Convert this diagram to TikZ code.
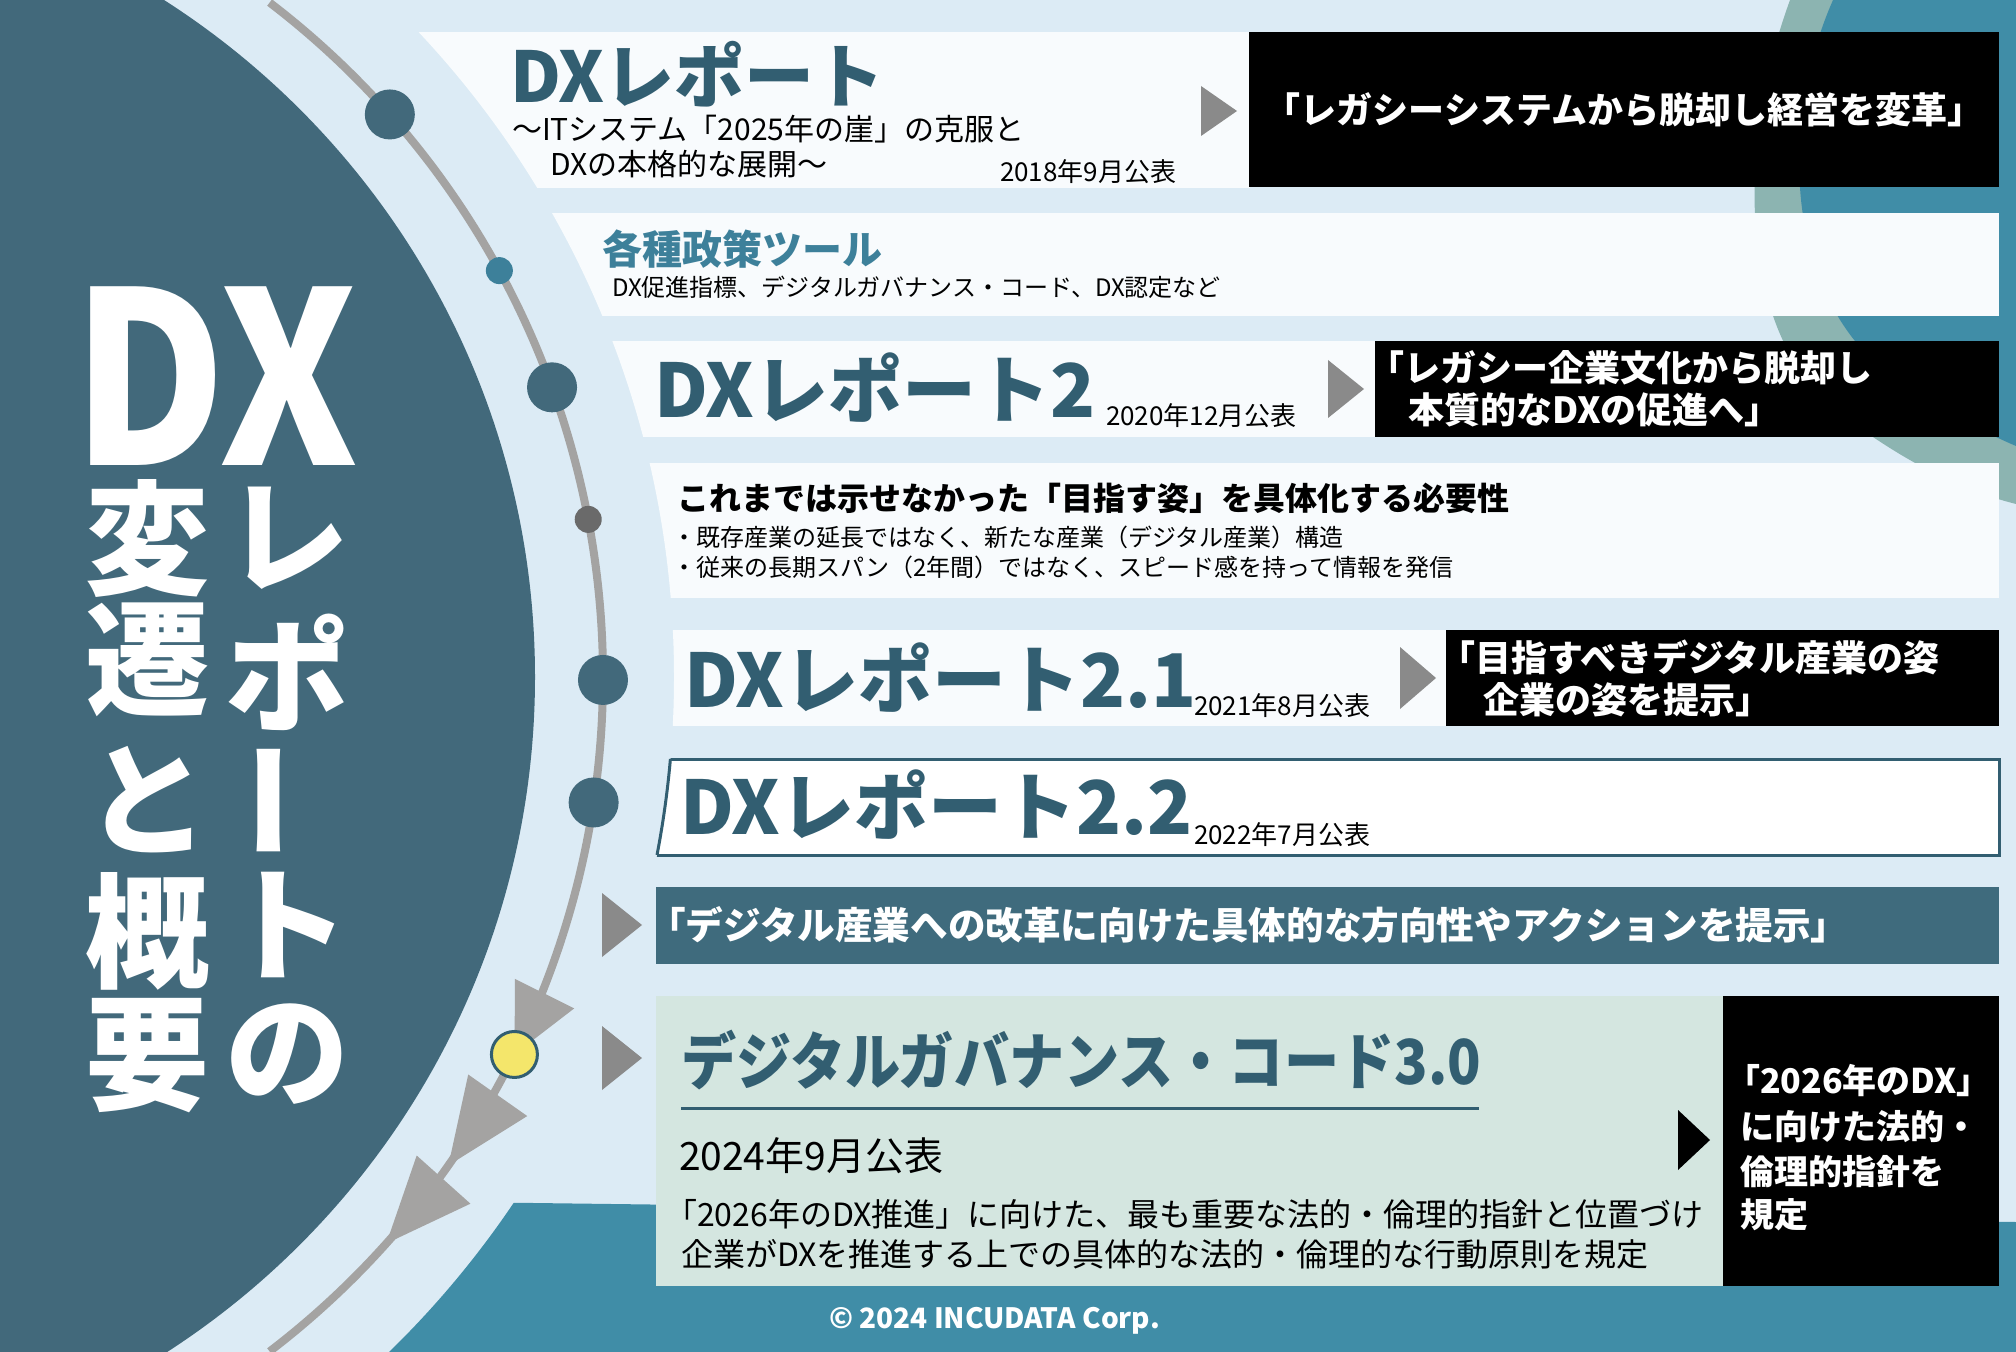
\documentclass[tikz,border=0pt]{standalone}
\usepackage{fontspec}
\setmainfont{Noto Sans CJK JP}
\usepackage{graphicx}
\usetikzlibrary{arrows.meta,positioning,calc,decorations.markings}
\definecolor{bgblue}{HTML}{DCEBF5}
\definecolor{paper}{HTML}{F8FBFD}
\definecolor{discteal}{HTML}{42697B}
\definecolor{headteal}{HTML}{325E71}
\definecolor{toolteal}{HTML}{3D809A}
\definecolor{seateal}{HTML}{408DA7}
\definecolor{seagreen}{HTML}{8CB4B1}
\definecolor{railgray}{HTML}{A4A3A2}
\definecolor{tipgray}{HTML}{8A8A8A}
\definecolor{dotgray}{HTML}{6A6A6A}
\definecolor{codegreen}{HTML}{D4E6E0}
\definecolor{barteal}{HTML}{3F6B7D}
\definecolor{nowyellow}{HTML}{F4E66B}

% small play-style pointer: colour, centre x, centre y, half width, half height
\newcommand{\pointer}[5]{\fill[#1] (#2-#4,#3-#5) -- (#2+#4,#3) -- (#2-#4,#3+#5) -- cycle;}

\begin{document}
\begin{tikzpicture}[x=0.5pt,y=-0.5pt,
    every node/.style={inner sep=0pt,outer sep=0pt},
    head/.style={anchor=base west,text=headteal,font=\bfseries\fontsize{37}{40}\selectfont},
    pubdate/.style={anchor=base west,font=\fontsize{13}{15}\selectfont},
    quote/.style={anchor=base west,text=white,font=\bfseries\fontsize{18}{21}\selectfont},
    bodytext/.style={anchor=base west,font=\fontsize{16}{19}\selectfont},
    milestone/.style={circle,fill=discteal,minimum size=25pt},
    minor/.style={circle,minimum size=13.5pt},
    vchar/.style={text=white,font=\bfseries\fontsize{62}{62}\selectfont}
  ]
  % background
  \fill[bgblue] (0,0) rectangle (2016,1352);
  \useasboundingbox (0,0) rectangle (2016,1352);
  \fill[seagreen] (1790,0) .. controls (1735,150) and (1740,330) .. (1833,408)
    .. controls (1900,460) and (1960,490) .. (2016,504) -- (2016,0) -- cycle;
  \fill[seateal] (1833,0) .. controls (1780,120) and (1780,300) .. (1900,383)
    .. controls (1950,415) and (1990,435) .. (2016,446) -- (2016,0) -- cycle;

  % panels, cut by the light ring round the disc
  \begin{scope}[even odd rule]
    \clip (0,0) rectangle (2016,1352) (-268,677) circle (942);
    \fill[seateal] (300,1200) -- (2016,1222) -- (2016,1352) -- (300,1352) -- cycle;
    \fill[paper] (300,32) rectangle (1250,188);
    \fill[paper] (300,213) rectangle (1999,316);
    \fill[paper] (300,341) rectangle (1376,437);
    \fill[paper] (300,463) rectangle (1999,598);
    \fill[paper] (300,630) rectangle (1447,726);
    \filldraw[fill=white,draw=headteal,line width=1.5pt] (300,759) rectangle (1999,855);
  \end{scope}
  \draw[headteal,line width=1.5pt,shift={(-268,677)}] (4.99:942) arc[start angle=4.99,end angle=10.89,radius=942];

  \fill[black] (1249,32) rectangle (1999,187);
  \fill[black] (1375,341) rectangle (1999,437);
  \fill[black] (1446,630) rectangle (1999,726);
  \fill[barteal] (656,887) rectangle (1999,964);
  \fill[codegreen] (656,996) rectangle (1723,1286);
  \fill[black] (1723,996) rectangle (1999,1286);

  % the disc and the time line
  \fill[discteal] (-268,677) circle (803);
  \draw[railgray,line width=4pt,shift={(-246,677)},postaction={decorate},
    decoration={markings,
      mark=at position 0.751 with {\arrow{Triangle[length=34pt,width=32pt]}},
      mark=at position 0.834 with {\arrow{Triangle[length=43pt,width=35pt]}},
      mark=at position 0.898 with {\arrow{Triangle[length=43pt,width=35pt]}}}]
    (-52.6:849) arc[start angle=-52.6,end angle=52.6,radius=849];
  \begin{scope}[shift={(-246,677)}]
    \node[milestone] (dot2018) at (-41.5:849) {};
    \node[minor,fill=toolteal] (dottools) at (-28.6:849) {};
    \node[milestone] (dot2020) at (-19.95:849) {};
    \node[minor,fill=dotgray] (dotneeds) at (-10.7:849) {};
    \node[milestone] (dot2021) at (0.2:849) {};
    \node[milestone] (dot2022) at (8.5:849) {};
    \node[circle,fill=nowyellow,draw=headteal,line width=1.5pt,minimum size=23pt] (dot2024) at (26.4:849) {};
  \end{scope}

  % pointers
  \pointer{tipgray}{1219}{111}{18}{25}
  \pointer{tipgray}{1346}{389}{18}{29}
  \pointer{tipgray}{1418}{678}{18}{31}
  \pointer{tipgray}{622}{925}{20}{32}
  \pointer{tipgray}{622}{1058}{20}{32}
  \pointer{black}{1694}{1140}{16}{30}

  % left title
  \node[text=white,font=\bfseries\fontsize{120}{120}\selectfont] (bigdx) at (215,376) {\scalebox{0.88}[1]{DX}};
  \node[vchar] (vre) at (287,538) {レ};
  \node[vchar] (vpo) at (287,672) {ポ};
  \node[vchar,rotate=90] (vbar) at (287,800) {ー};
  \node[vchar] (vto) at (287,925) {ト};
  \node[vchar] (vno) at (287,1054) {の};
  \node[vchar] (vhen) at (147,539) {変};
  \node[vchar] (vsen) at (147,660) {遷};
  \node[vchar] (vand) at (147,800) {と};
  \node[vchar] (vgai) at (147,931) {概};
  \node[vchar] (vyou) at (147,1056) {要};

  % DX report 2018
  \node[anchor=base west,text=headteal,font=\bfseries\fontsize{35}{40}\selectfont] (t2018) at (510,103) {DXレポート};
  \node[anchor=base west,font=\fontsize{15}{17}\selectfont] (sub2018a) at (512,141) {〜ITシステム「2025年の崖」の克服と};
  \node[anchor=base west,font=\fontsize{15}{17}\selectfont] (sub2018b) at (550,176) {DXの本格的な展開〜};
  \node[pubdate] (d2018) at (1000,182) {2018年9月公表};
  \node[text=white,font=\bfseries\fontsize{18}{21}\selectfont] (q2018) at (1624,110) {「レガシーシステムから脱却し経営を変革」};

  % policy tools
  \node[anchor=base west,text=toolteal,font=\bfseries\fontsize{20}{24}\selectfont] (ttools) at (602,265) {各種政策ツール};
  \node[anchor=base west,font=\fontsize{12}{14}\selectfont] (subtools) at (612,297) {DX促進指標、デジタルガバナンス・コード、DX認定など};

  % DX report 2
  \node[head] (t2020) at (654,418) {DXレポート2};
  \node[pubdate] (d2020) at (1106,426) {2020年12月公表};
  \node[quote] (q2020a) at (1368,382) {「レガシー企業文化から脱却し};
  \node[quote] (q2020b) at (1408,424) {本質的なDXの促進へ」};

  % needs
  \node[anchor=base west,font=\bfseries\fontsize{16}{19}\selectfont] (tneeds) at (677,510) {これまでは示せなかった「目指す姿」を具体化する必要性};
  \node[anchor=base west,font=\fontsize{12}{14}\selectfont] (needs1) at (672,546) {・既存産業の延長ではなく、新たな産業（デジタル産業）構造};
  \node[anchor=base west,font=\fontsize{12}{14}\selectfont] (needs2) at (672,576) {・従来の長期スパン（2年間）ではなく、スピード感を持って情報を発信};

  % DX report 2.1
  \node[head] (t2021) at (684,707) {DXレポート2.1};
  \node[pubdate] (d2021) at (1194,715) {2021年8月公表};
  \node[quote] (q2021a) at (1439,671) {「目指すべきデジタル産業の姿};
  \node[quote] (q2021b) at (1483,713) {企業の姿を提示」};

  % DX report 2.2
  \node[head] (t2022) at (680,834) {DXレポート2.2};
  \node[pubdate] (d2022) at (1194,844) {2022年7月公表};
  \node[anchor=base west,text=white,font=\bfseries\fontsize{18.8}{22}\selectfont] (q2022) at (648,939) {「デジタル産業への改革に向けた具体的な方向性やアクションを提示」};

  % Digital governance code 3.0
  \node[anchor=base west,text=headteal,font=\bfseries\fontsize{31}{36}\selectfont] (tdgc) at (681,1084) {\scalebox{0.89}[1]{デジタルガバナンス・コード3.0}};
  \draw[headteal,line width=1.5pt] (681,1108) -- (1479,1108);
  \node[anchor=base west,font=\fontsize{19.5}{22}\selectfont] (d2024) at (679,1170) {2024年9月公表};
  \node[bodytext] (dgc1) at (665,1226) {「2026年のDX推進」に向けた、最も重要な法的・倫理的指針と位置づけ};
  \node[bodytext] (dgc2) at (681,1266) {企業がDXを推進する上での具体的な法的・倫理的な行動原則を規定};
  \node[quote,font=\bfseries\fontsize{17}{20}\selectfont] (q2024a) at (1726,1093) {「2026年のDX」};
  \node[quote,font=\bfseries\fontsize{17}{20}\selectfont] (q2024b) at (1740,1139) {に向けた法的・};
  \node[quote,font=\bfseries\fontsize{17}{20}\selectfont] (q2024c) at (1740,1184) {倫理的指針を};
  \node[quote,font=\bfseries\fontsize{17}{20}\selectfont] (q2024d) at (1740,1227) {規定};

  \node[anchor=base west,text=white,font=\bfseries\fontsize{14}{16}\selectfont] (copy) at (829,1328) {© 2024 INCUDATA Corp.};
\end{tikzpicture}
\end{document}
